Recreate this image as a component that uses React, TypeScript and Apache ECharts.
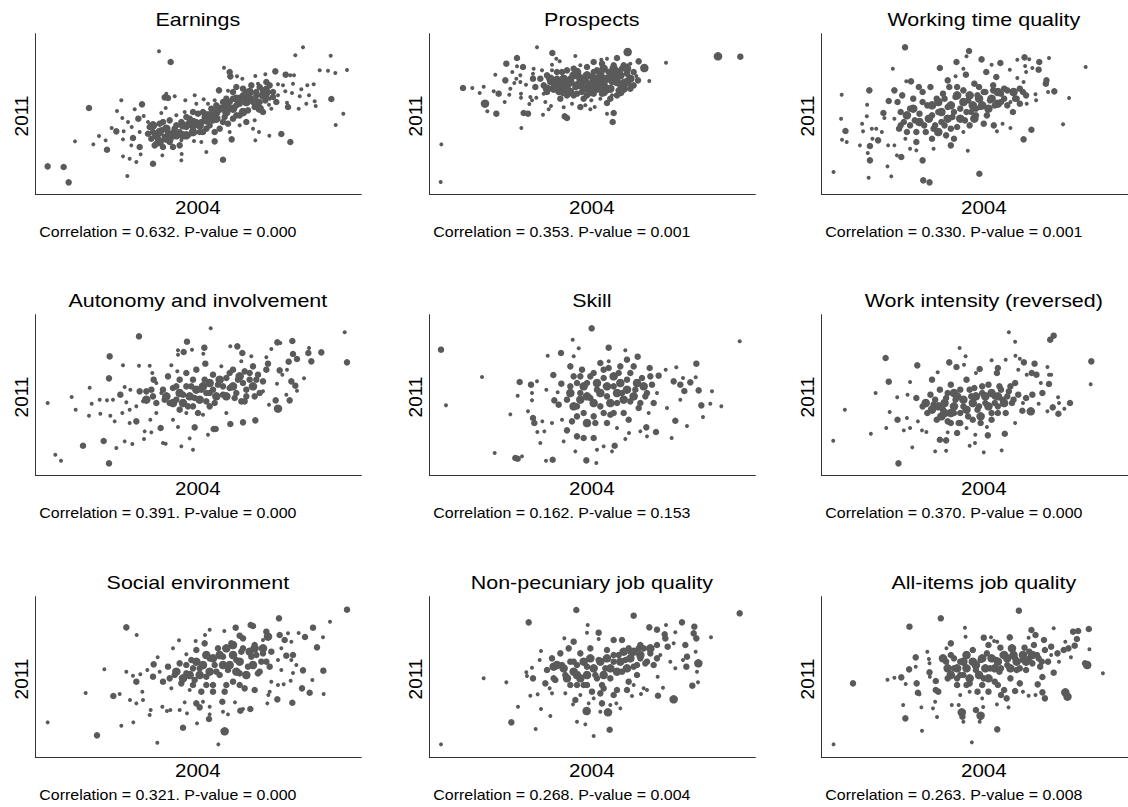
import { useEffect, useRef } from "react";
import * as echarts from "echarts";

type Pt = [number, number, number];

// [score 2004, score 2011, weight class]
const earnings: Pt[] = [
  [37.8,43.2,1],[41.3,40.0,2],[81.0,44.4,1],[78.7,42.0,1],[89.3,41.9,1],[86.0,37.5,1],[88.5,37.4,1],[90.7,36.7,1],[94.2,37.6,1],
  [89.5,28.9,2],[93.1,24.5,1],[90.8,21.1,1],[57.3,38.3,1],[59.0,37.0,2],[59.2,35.7,2],[61.2,35.7,1],[62.8,35.0,1],[66.7,35.8,1],
  [69.7,36.3,1],[72.7,37.2,2],[75.8,36.2,2],[77.2,36.0,1],[78.3,36.0,1],[73.5,33.3,1],[75.0,33.0,1],[78.0,33.5,1],[82.3,33.0,1],
  [84.2,33.3,1],[80.5,31.8,1],[75.7,31.2,1],[77.7,30.7,1],[73.5,30.0,1],[80.0,29.7,1],[82.8,30.0,1],[84.5,28.2,1],[82.0,27.5,1],
  [84.8,26.8,1],[76.2,27.8,1],[76.5,26.5,2],[79.7,26.0,1],[71.5,26.0,1],[70.8,27.2,1],[74.5,18.4,2],[77.2,16.0,2],[70.9,17.9,1],
  [67.8,19.0,1],[66.7,16.5,1],[59.6,16.8,2],[57.0,10.7,2],[52.0,13.0,1],[54.5,16.2,2],[48.3,16.3,1],[44.6,12.4,1],[44.5,10.5,1],
  [38.8,12.0,1],[36.0,9.5,2],[28.3,5.8,1],[32.3,12.3,1],[31.0,10.0,1],[29.0,11.0,1],[27.0,11.7,1],[22.2,13.7,2],[18.1,15.3,1],
  [12.6,16.2,1],[4.4,8.7,2],[9.2,8.5,2],[10.7,3.9,2],[16.8,26.2,2],[26.5,28.5,1],[25.2,25.3,1],[30.5,25.8,1],[32.7,27.3,2],
  [33.2,23.8,1],[31.6,23.0,2],[26.8,23.2,1],[28.5,22.0,1],[29.6,20.5,1],[25.0,19.2,2],[23.6,20.2,1],[27.2,19.2,1],[21.8,16.5,1],
  [19.8,17.8,1],[27.0,16.8,1],[30.0,17.2,2],[32.0,19.0,1],[29.5,15.0,1],[32.0,14.5,2],[34.5,22.0,1],[38.5,24.7,1],[39.8,26.2,1],
  [39.5,29.4,2],[40.5,29.2,2],[42.5,29.7,1],[40.0,30.5,1],[45.7,28.5,1],[48.5,30.0,1],[51.2,28.8,1],[55.8,31.5,2],[58.5,31.4,1],
  [61.0,32.5,2],[63.0,32.0,2],[65.5,33.0,2],[68.0,32.5,2],[70.0,32.0,2],[69.7,28.5,2],[72.0,29.5,2],[69.0,25.0,2],[66.5,26.5,2],
  [66.5,22.5,1],[64.0,22.0,2],[66.0,20.0,1],[35.0,20.5,2],[36.0,19.0,2],[37.5,17.0,2],[35.5,17.0,2],[38.5,19.5,2],[39.5,17.5,2],
  [37.0,15.5,2],[40.5,18.5,2],[42.0,14.5,2],[41.0,16.0,2],[42.5,20.0,2],[44.0,19.0,2],[44.5,22.0,2],[46.0,20.5,2],[47.0,23.0,2],
  [48.0,20.5,2],[49.5,24.5,2],[50.5,22.0,2],[51.5,23.5,2],[52.0,20.0,2],[53.5,26.0,2],[54.0,22.5,2],[55.0,25.0,2],[56.0,20.0,2],
  [57.0,28.0,2],[57.5,23.5,2],[59.0,26.0,2],[60.0,29.0,2],[61.0,24.0,2],[62.0,27.5,2],[63.0,30.0,2],[64.5,25.5,2],[65.5,29.0,2],
  [67.0,30.0,2],[68.0,28.0,2],[69.0,31.5,2],[64.0,31.0,2],[60.0,23.0,2],[58.5,21.5,2],[54.5,19.0,2],[50.0,19.0,2],[47.0,18.0,1],
  [44.5,16.5,1],[45.5,25.0,1],[43.0,24.0,1],[41.0,22.5,2],[38.0,21.5,2],[49.0,27.5,1],[52.5,27.5,1],[54.5,28.5,1],[34.5,18.5,2],
  [36.5,15.0,2],[39.0,14.5,2],[62.0,21.0,1],[59.0,19.0,1],[50.5,16.0,1],[71.0,29.0,1],[70.0,34.0,2],[67.5,33.5,1],
  [36,21,3],[37,18,3],[38,16,3],[40,20,3],[41,17,3],[43,18,3],[44,15,2],[45,21,3],[46,18,3],[47,21.5,3],[48,19,3],[49,22,2],
  [50,21,3],[51,25,2],[52,22.5,3],[53,24,3],[55,23,3],[56,26,3],[57,22,2],[58,25,3],[59,28,2],[60,26,3],[61,27,2],[62,29,3],
  [63,25,3],[64,28,3],[65,31,3],[66,28,2],[67,31,2],[68,26,3],[69,30,3],[70,30,2],[71,33,2],[72,31,2],[73,28,2],[46,23.5,2],
  [43,21,2],[39,22,2],[55,27,2],[58,29,2],[60,31,2],[62,24,2],[48,25,2],[51,19,2],[53,21,2],
  [38,19,3],[42,18.5,3],[45,18,3],[48,22,3],[52,24,3],[55,25,3],[58,27,3],[61,29,3],[64,30,3],[67,28,3],[70,31,3],[40,17,3]
];

const prospects: Pt[] = [
  [4.3,15.3,1],[4.1,4.0,1],[10.8,32.2,2],[13.6,32.2,1],[17.0,32.6,1],[15.8,30.7,1],[17.4,27.5,3],[18.1,25.2,1],[20.8,24.5,2],
  [20.0,31.2,1],[21.5,30.5,2],[23.3,28.0,1],[24.7,30.2,1],[25.0,32.0,1],[23.5,34.5,2],[20.5,36.2,1],[23.8,39.5,2],[27.0,41.2,2],
  [27.0,38.7,1],[28.8,38.5,2],[25.6,37.0,1],[26.8,35.0,1],[28.0,36.0,1],[26.2,33.7,1],[28.0,34.0,1],[29.7,33.2,1],[28.2,30.5,1],
  [28.2,29.3,1],[31.0,29.5,1],[31.5,28.5,1],[32.8,29.3,1],[30.7,27.4,1],[29.0,24.7,2],[30.3,24.5,2],[28.3,20.2,1],[34.8,24.2,1],
  [36.5,25.8,1],[37.2,26.8,1],[35.5,28.0,1],[33.0,44.4,1],[37.6,42.7,2],[38.8,41.0,1],[39.8,40.2,1],[44.5,41.8,1],[37.5,39.2,1],
  [32.0,38.0,1],[31.8,36.5,1],[34.5,37.5,1],[41.0,26.4,1],[41.3,23.7,2],[42.0,23.2,2],[43.5,27.5,1],[46.0,26.5,2],[47.5,27.0,1],
  [49.0,25.8,1],[50.3,26.5,1],[49.3,28.5,1],[52.0,29.0,1],[54.0,27.7,2],[54.8,29.0,1],[54.0,24.5,1],[56.0,24.7,2],[55.7,22.0,2],
  [52.3,40.7,1],[54.0,41.0,1],[57.0,41.2,2],[60.2,43.0,3],[60.3,39.0,1],[61.0,39.5,1],[63.5,40.2,2],[65.2,38.2,3],[62.8,35.8,1],
  [63.3,34.5,2],[66.7,34.3,1],[71.7,39.8,1],[87.3,41.7,3],[94.0,41.6,2],[34.0,35.0,2],[35.0,33.0,2],[36.0,36.0,2],[37.0,34.0,2],
  [38.0,32.0,3],[39.0,35.0,2],[39.5,31.0,2],[40.5,37.0,2],[41.0,33.0,2],[42.0,30.0,2],[43.0,35.0,2],[44.0,38.0,2],[44.5,32.5,2],
  [45.5,36.0,2],[46.5,31.0,2],[47.0,34.0,2],[48.0,38.5,2],[48.5,32.5,2],[49.5,35.5,2],[50.0,30.5,2],[51.0,37.5,2],[51.5,33.5,2],
  [52.5,39.5,2],[53.0,35.0,2],[54.0,31.5,2],[54.5,37.0,2],[55.5,34.0,2],[56.0,39.0,2],[57.0,36.0,2],[57.5,31.5,2],[58.5,38.0,2],
  [59.0,34.0,2],[60.0,36.5,2],[61.0,33.0,1],[50.0,40.0,2],[46.0,39.0,1],[42.0,37.5,2],[37.5,37.5,1],[39.5,33.5,3],[45.0,30.5,2],
  [52.5,30.5,2],[55.5,30.0,1],[35.0,30.5,1],[32.5,32.5,2],[31.8,35.0,2],
  [36,32,3],[38,34,3],[40,32,3],[41,35,3],[42,33,3],[43,31,3],[44,36,3],[45,33,3],[46,35,3],[47,32,3],[48,36,3],[49,33,3],
  [50,35,3],[51,32,3],[52,36,3],[53,33,3],[54,35,3],[55,32,3],[56,36,3],[57,34,3],[58,36,3],[59,32,3],[60,38,3],[61,35,3],
  [62,37,2],[56,38,3],[53,38,3],[50,37,2],[47,29,2],[44,30,2],[48,30,2],[51,34,2],[58,33,2],[55,29,2],[40,29,2],[36,31,2],
  [57,30,2],[62,33,2],[59,39,2],
  [37,35,3],[39,37,2],[41,31,3],[43,34,3],[45,37,3],[47,35,3],[49,31,3],[50,33,3],[52,34,3],[53,31,3],[55,35,3],[57,37,3],
  [58,31,3],[60,34,3],[61,32,2],[55,37,2],[48,34,2],[46,33,2]
];

const workingTime: Pt[] = [
  [4.6,7.0,1],[7.2,30.2,1],[7.0,23.0,1],[8.4,19.3,2],[7.3,16.7,1],[8.8,16.0,1],[15.8,5.3,1],[16.2,10.5,2],[16.2,14.8,2],
  [15.5,12.7,1],[13.0,15.0,1],[14.0,19.2,1],[13.7,21.5,1],[15.2,23.7,1],[15.3,27.2,1],[16.0,31.5,2],[17.0,17.0,1],[16.8,20.0,1],
  [18.8,16.5,2],[18.2,20.0,1],[20.0,19.0,1],[20.5,24.7,2],[20.8,23.2,1],[21.8,8.7,1],[23.0,5.7,1],[22.0,15.0,1],[23.5,38.0,1],
  [27.4,44.4,2],[24.0,31.5,2],[22.2,28.3,2],[24.0,23.0,1],[24.8,12.0,1],[26.2,11.5,2],[27.8,34.2,1],[29.3,34.2,2],[33.0,10.5,2],
  [33.2,4.5,2],[35.2,3.9,2],[36.5,14.0,1],[38.5,38.2,2],[43.8,40.0,2],[47.0,41.7,1],[47.8,43.3,2],[46.0,38.0,1],[46.8,36.2,2],
  [43.5,35.7,1],[51.8,40.8,2],[55.0,39.2,1],[57.8,39.7,2],[53.3,37.0,2],[56.5,35.5,2],[47.4,13.4,1],[42.0,15.0,2],[51.1,6.5,2],
  [60.8,37.7,1],[63.2,40.7,1],[65.5,41.4,2],[67.0,40.8,1],[65.7,38.8,1],[68.0,38.2,1],[70.2,40.0,2],[70.0,37.7,2],[73.3,41.2,1],
  [66.0,37.0,1],[63.2,35.2,1],[65.2,34.0,1],[72.5,34.5,2],[72.3,33.5,2],[75.0,31.2,2],[73.0,31.0,1],[69.0,30.3,1],[69.2,28.5,1],
  [66.2,27.5,1],[85.0,38.5,1],[79.7,29.2,1],[77.8,21.3,1],[67.7,19.7,2],[65.2,16.8,2],[61.8,25.0,2],[58.5,21.5,1],[55.7,21.0,2],
  [56.7,19.2,1],[61.0,20.2,1],[25.0,28.0,2],[26.0,25.0,2],[26.5,30.0,2],[27.0,22.0,2],[28.0,19.0,2],[29.0,26.0,2],[30.0,29.0,2],
  [30.5,22.5,2],[31.0,16.0,2],[32.0,24.5,2],[33.0,31.0,2],[33.5,21.0,2],[34.5,27.0,2],[35.5,32.5,2],[36.0,24.0,2],[36.5,20.0,2],
  [37.5,29.0,2],[38.0,25.0,2],[39.0,22.0,2],[39.5,30.5,2],[40.5,18.0,2],[41.0,26.5,2],[41.5,32.5,2],[42.5,23.5,2],[43.5,29.5,2],
  [44.0,20.5,2],[45.0,26.0,2],[46.0,31.5,2],[46.5,22.5,2],[47.5,28.5,2],[48.5,25.0,2],[49.5,33.5,2],[49.5,23.0,3],[50.5,30.0,2],
  [51.5,26.5,2],[52.5,31.0,2],[53.5,24.0,2],[54.5,28.5,2],[55.5,31.5,2],[57.0,27.5,3],[58.0,30.5,2],[59.0,29.0,2],[60.0,31.5,2],
  [61.0,28.0,1],[62.5,29.0,2],[64.0,27.5,2],[65.0,31.0,2],[55.5,33.0,2],[51.0,32.5,2],[44.0,32.5,2],[41.0,34.5,2],[31.8,32.5,2],
  [40.0,21.0,2],[43.0,17.0,2],[46.0,19.0,1],[50.0,26.0,2],[52.5,21.5,2],[27.5,17.0,1],[29.0,14.0,1],[31.0,13.5,1],[25.5,20.0,2],
  [24.0,15.0,1],
  [28,24,3],[30,26,3],[32,22,3],[33,28,2],[35,23,3],[36,27,3],[37,21,2],[38,28,3],[39,25,3],[40,29,2],[41,23,3],[42,27,3],
  [43,25,2],[44,30,3],[45,23,3],[46,28,3],[47,25,2],[48,30,3],[49,27,3],[50,24,2],[51,29,3],[52,27,3],[53,31,2],[54,26,3],
  [55,29,3],[56,27,2],[57,31,3],[58,28,2],[59,32,2],[60,27,2],[62,31,3],[63,29,2],[64,32,2],[66,30,2],[34,19,2],[36,17,2],
  [38,19,3],[42,20,2],[48,21,2],[29,21,2],[31,19,2],[26,21,2]
];

const autonomy: Pt[] = [
  [4.4,22.0,1],[6.7,6.5,1],[8.4,4.7,1],[11.6,23.8,1],[12.8,20.0,1],[15.0,9.2,2],[17.0,26.6,1],[16.8,18.2,1],[17.6,21.8,1],
  [20.0,23.0,1],[20.2,18.8,1],[21.2,10.6,2],[22.2,22.8,1],[22.8,29.4,2],[23.0,36.0,2],[22.8,3.9,2],[23.2,18.2,1],[24.0,23.0,1],
  [24.5,16.5,1],[25.0,8.5,1],[26.2,24.5,2],[26.8,19.0,1],[27.0,33.3,1],[27.5,26.8,1],[27.5,10.5,1],[28.0,22.2,1],[29.0,20.0,1],
  [29.0,16.0,1],[29.2,26.0,1],[29.8,9.7,1],[31.0,16.5,2],[31.8,42.0,2],[31.8,33.2,1],[31.0,21.0,1],[33.0,22.5,1],[33.5,13.5,1],
  [33.3,11.2,1],[35.0,33.2,1],[35.2,17.0,1],[35.5,13.2,1],[35.8,31.0,1],[36.2,29.0,2],[37.0,19.0,1],[38.3,14.5,2],[39.0,10.0,1],
  [39.8,9.8,1],[41.5,33.3,1],[42.0,17.0,1],[43.5,37.8,1],[43.5,36.5,1],[43.5,14.8,1],[43.3,31.5,1],[45.2,37.3,2],[46.2,40.4,2],
  [47.7,38.0,1],[44.5,9.0,1],[47.0,11.4,1],[48.0,8.0,1],[48.5,14.7,2],[51.1,36.8,1],[51.4,38.6,2],[51.7,33.8,2],[53.3,44.4,1],
  [52.5,12.5,1],[54.2,14.2,2],[54.8,14.2,2],[59.2,15.7,2],[59.2,39.0,1],[61.3,39.0,2],[62.8,37.0,2],[65.5,36.0,1],[62.5,34.5,1],
  [63.0,16.2,2],[66.7,16.8,2],[70.0,35.7,1],[70.5,33.8,2],[71.5,38.2,1],[73.3,40.2,2],[74.2,40.0,1],[77.8,40.6,2],[78.0,36.7,2],
  [79.2,35.2,2],[76.7,34.4,2],[74.0,31.8,2],[76.2,32.0,1],[74.8,30.5,1],[73.2,27.8,1],[77.5,28.5,2],[78.7,27.2,2],[79.2,25.7,1],
  [81.3,29.4,1],[82.8,38.5,1],[82.6,37.0,2],[83.5,34.5,2],[86.5,37.2,2],[93.5,43.2,1],[94.2,34.2,2],[76.0,24.5,1],[77.0,22.8,2],
  [73.5,20.3,3],[72.8,22.8,2],[70.8,21.5,1],[69.0,25.5,1],[32.0,25.5,2],[34.0,25.5,2],[35.5,26.0,2],[37.0,28.0,1],[38.5,25.0,1],
  [39.5,23.0,2],[40.5,30.0,2],[41.0,22.0,2],[42.0,26.5,2],[43.0,23.0,2],[44.0,29.0,2],[45.0,24.5,2],[46.0,31.0,2],[46.5,21.0,2],
  [47.5,27.0,2],[48.5,23.5,2],[49.0,32.0,2],[49.5,19.0,2],[50.5,26.0,2],[51.5,29.0,2],[52.0,22.5,2],[53.0,25.0,2],[54.0,30.5,2],
  [54.5,22.0,2],[55.5,27.5,2],[56.5,33.0,1],[57.0,24.5,2],[58.0,29.5,2],[59.0,26.5,2],[60.0,32.0,2],[60.5,23.5,2],[61.5,29.0,2],
  [62.5,22.5,2],[63.5,31.5,2],[64.0,26.0,2],[65.0,29.0,2],[66.0,33.0,2],[66.5,24.0,2],[67.5,30.5,2],[69.0,28.5,2],[70.0,32.0,2],
  [46.0,19.0,1],[51.0,18.5,1],[58.0,19.0,1],[63.5,22.5,2],
  [34,23,3],[36,24,2],[37,22,2],[39,26,2],[40,24,3],[42,22,3],[43,27,2],[44,25,3],[45,22,3],[46,27,2],[47,24,3],[48,29,2],
  [49,26,3],[50,23,3],[51,27,3],[52,25,2],[53,28,3],[54,26,2],[55,24,3],[56,29,3],[57,27,2],[58,24,3],[59,31,2],[60,27,3],
  [61,25,2],[62,30,3],[63,28,2],[64,24,2],[65,31,2],[66,27,3],[67,29,2],[68,25,2],[48,21,2],[44,20,2],[53,21,2]
];

const skill: Pt[] = [
  [4.2,38.0,2],[5.7,21.3,1],[16.5,29.8,1],[20.3,7.0,1],[25.0,18.6,1],[26.5,5.5,2],[27.2,5.3,2],[28.5,6.0,1],[27.2,24.2,1],
  [27.8,28.3,2],[30.3,19.5,1],[31.2,27.5,2],[31.5,25.0,1],[31.5,22.8,1],[31.8,17.5,2],[32.2,16.0,2],[33.0,28.5,1],[33.1,13.3,1],
  [34.0,10.0,1],[34.6,16.5,1],[35.2,13.5,1],[35.7,4.7,1],[36.2,36.2,1],[35.8,26.0,1],[37.5,16.0,1],[37.7,5.0,2],[37.9,30.4,2],
  [38.2,22.8,2],[39.2,25.2,1],[40.2,37.0,2],[40.3,27.8,2],[40.5,17.0,1],[41.0,10.5,1],[42.0,13.8,2],[43.5,16.5,2],[43.7,41.0,1],
  [44.0,36.0,1],[44.5,7.5,1],[45.5,38.4,1],[47.8,4.8,2],[49.4,44.4,2],[50.0,11.5,2],[51.0,8.0,1],[50.8,4.0,1],[53.0,9.0,1],
  [54.5,38.6,2],[54.5,34.5,1],[55.5,7.5,1],[56.3,9.2,2],[57.0,14.5,1],[59.5,37.8,1],[60.0,35.0,2],[63.2,35.9,2],[60.6,13.0,1],
  [59.5,11.2,1],[64.0,13.5,1],[65.8,14.7,2],[66.0,12.0,1],[68.7,13.3,2],[73.4,11.5,1],[74.5,16.7,2],[78.0,15.1,1],[82.8,17.8,1],
  [82.3,21.3,2],[85.0,21.8,1],[88.3,21.0,1],[85.5,25.5,1],[81.5,25.8,2],[80.8,33.8,2],[80.6,29.7,1],[79.0,28.2,2],[76.8,29.5,1],
  [77.2,25.6,2],[76.0,27.5,2],[74.8,32.7,1],[74.0,28.5,2],[71.6,32.0,1],[69.5,30.2,2],[66.8,32.5,2],[76.0,23.0,1],[72.0,20.5,1],
  [93.8,40.5,1],[42.0,23.0,2],[43.0,27.0,2],[44.0,30.0,2],[45.0,21.0,2],[46.0,25.0,2],[46.5,32.0,2],[47.0,19.0,2],[48.0,28.0,2],
  [49.0,23.5,2],[50.0,31.0,2],[50.5,16.0,2],[51.0,26.0,2],[52.0,21.0,2],[53.0,29.5,2],[54.0,24.0,2],[54.5,32.5,2],[55.0,18.5,2],
  [56.0,27.0,2],[57.0,22.0,2],[57.5,31.0,2],[58.5,25.0,2],[59.0,19.0,2],[60.0,29.0,2],[61.0,22.5,2],[62.0,33.0,2],[62.5,26.0,2],
  [63.5,20.5,2],[64.5,29.5,2],[65.5,24.0,2],[66.5,19.0,1],[67.5,27.5,2],[69.0,25.0,1],[48.0,16.0,3],[54.0,16.0,2],[45.0,12.0,2],
  [47.0,11.5,2],[60.5,17.0,2],[39.5,21.5,2],[43.0,33.0,2],[46.0,30.0,2],
  [43,25,3],[44,21,3],[45,28,2],[46,23,3],[47,27,3],[48,24,3],[49,30,2],[50,22,3],[51,28,3],[52,25,3],[53,19,2],[53,32,2],
  [54,27,3],[55,22,3],[56,30,3],[57,25,3],[58,28,3],[59,23,3],[60,26,3],[61,31,2],[62,24,3],[63,28,3],[64,22,2],[65,27,3],
  [66,25,2],[67,30,2],[68,22,2],[50,18,2],[56,19,2],[45,18,2],[52,34,2],[58,33,2]
];

const workIntensity: Pt[] = [
  [4.5,10.7,1],[8.2,20.0,1],[16.5,12.8,1],[18.0,25.0,1],[21.2,35.5,2],[22.2,28.4,2],[21.4,14.5,1],[22.5,19.3,1],[25.0,17.0,2],
  [25.3,3.9,2],[24.9,23.7,1],[27.0,13.8,1],[28.0,17.5,1],[28.2,24.5,1],[29.0,28.3,1],[29.0,14.5,1],[29.7,8.7,1],[31.3,33.3,2],
  [31.0,23.5,2],[31.5,16.5,1],[32.8,13.8,1],[34.2,13.3,1],[37.0,7.5,1],[37.8,31.2,1],[36.0,29.0,2],[38.5,11.0,2],[40.5,10.8,2],
  [40.5,7.7,1],[41.0,13.2,1],[41.5,34.2,2],[43.8,32.8,2],[44.8,38.5,1],[46.2,33.5,1],[46.7,36.0,1],[48.0,9.2,1],[49.7,10.0,1],
  [49.8,12.5,1],[52.5,7.2,1],[53.8,12.3,2],[53.5,14.8,1],[51.2,32.2,2],[50.0,31.0,1],[55.0,34.8,1],[57.0,32.5,2],[56.7,31.0,2],
  [58.2,7.8,1],[59.2,12.8,2],[60.5,43.2,1],[62.5,40.4,1],[62.6,36.2,1],[59.5,35.0,1],[65.3,34.2,2],[68.7,33.8,2],[64.0,35.3,1],
  [63.5,32.0,1],[66.2,30.5,1],[67.8,31.0,2],[69.3,30.5,2],[72.8,32.8,1],[73.3,30.5,1],[74.0,30.5,1],[73.3,27.7,2],[70.7,28.0,1],
  [71.2,25.0,2],[73.7,41.0,2],[74.8,42.2,2],[62.5,16.0,1],[64.8,19.7,2],[67.5,19.5,3],[70.0,21.8,1],[72.8,19.5,1],[74.5,20.7,2],
  [76.3,18.8,2],[76.2,23.7,1],[76.5,22.0,1],[78.2,20.3,1],[80.0,22.0,2],[86.8,34.5,2],[86.6,27.6,1],[68.0,24.5,2],[66.0,23.5,2],
  [65.0,22.0,1],[33.0,21.0,2],[34.5,19.0,2],[35.5,24.5,2],[36.5,21.5,2],[37.5,17.0,2],[38.5,26.0,2],[39.5,20.0,2],[40.5,23.5,2],
  [41.0,16.5,2],[42.0,27.5,2],[43.0,19.0,2],[43.5,23.0,2],[44.5,16.0,2],[45.0,26.0,2],[46.0,21.0,2],[47.0,29.0,2],[47.5,18.0,2],
  [48.5,24.0,2],[49.5,26.5,2],[50.5,20.0,2],[51.5,16.0,2],[52.0,25.0,2],[53.0,22.0,2],[54.0,27.5,2],[55.0,19.0,2],[56.0,24.0,2],
  [57.0,21.0,2],[57.5,27.0,2],[58.5,23.0,2],[59.5,19.0,2],[60.5,25.5,2],[61.5,22.0,2],[62.5,28.0,2],[63.5,24.5,2],[44.0,13.0,2],
  [47.0,14.5,1],[51.5,18.0,3],[40.0,19.0,3],[43.0,25.0,3],
  [34,22,3],[36,20,3],[37,23,2],[38,21,3],[39,18,3],[40,22,3],[41,25,2],[42,19,3],[43,21,3],[44,24,3],[45,19,2],[46,23,3],
  [47,20,3],[48,26,2],[49,22,3],[50,24,3],[51,21,2],[52,27,2],[53,24,3],[54,21,3],[55,25,3],[56,22,2],[57,24,3],[58,26,2],
  [59,22,3],[60,24,2],[61,27,2],[62,23,2],[45,16,2],[49,17,2],[42,16,2],[55,17,2],[57,19,2]
];

const socialEnv: Pt[] = [
  [4.4,10.8,1],[15.8,19.6,1],[19.2,6.9,2],[21.4,26.7,1],[24.1,18.7,2],[26.0,19.3,1],[26.5,9.8,1],[28.0,39.3,2],[28.0,26.0,1],
  [29.1,17.5,1],[30.0,24.8,1],[30.1,10.8,1],[31.0,23.0,2],[31.1,37.0,1],[31.0,16.5,1],[32.2,25.2,1],[32.8,20.0,1],[33.0,17.5,1],
  [34.3,26.5,1],[35.0,13.0,1],[35.3,14.5,1],[37.3,4.7,1],[37.4,30.3,1],[36.2,28.2,2],[38.8,15.5,1],[40.2,14.2,1],[41.2,14.5,1],
  [42.0,33.0,1],[43.8,35.4,1],[44.0,14.5,1],[45.0,9.2,2],[45.5,16.8,1],[46.0,31.2,1],[46.2,13.5,1],[49.2,10.5,1],[48.8,35.2,1],
  [49.0,16.5,2],[50.0,15.3,2],[52.8,11.8,2],[53.0,15.5,1],[53.0,13.2,1],[53.0,38.6,1],[51.6,37.0,1],[55.6,4.2,1],[57.5,8.1,3],
  [56.8,17.0,2],[57.0,14.0,1],[58.5,13.2,1],[57.4,38.2,1],[60.8,39.2,2],[62.2,14.3,2],[63.0,14.8,1],[65.2,14.8,2],[60.6,16.8,1],
  [65.3,40.0,2],[66.0,39.7,2],[62.0,36.8,2],[70.3,16.5,1],[70.6,19.0,1],[73.3,17.7,2],[73.8,42.0,2],[74.0,37.0,2],[77.8,16.7,2],
  [77.3,23.3,1],[78.0,25.6,1],[79.0,28.0,1],[80.7,21.0,2],[81.0,26.4,2],[83.0,19.7,2],[83.8,23.5,1],[87.1,26.3,2],[87.2,19.3,1],
  [85.2,33.3,2],[87.0,36.3,1],[81.6,36.4,2],[84.0,39.2,2],[89.1,41.0,1],[94.2,44.6,2],[79.7,37.6,1],[76.5,37.5,1],[75.5,35.5,2],
  [77.5,35.0,1],[74.5,33.0,1],[76.0,30.8,2],[78.0,31.0,2],[77.5,29.5,1],[73.5,29.5,1],[74.5,26.5,1],[75.2,22.2,1],[73.5,22.0,1],
  [71.5,23.0,1],[71.0,20.0,1],[70.0,38.0,2],[70.5,36.5,3],[69.0,35.5,1],[66.5,34.0,2],[36.0,24.5,2],[38.0,26.0,1],[39.0,23.0,2],
  [40.5,27.5,2],[41.5,21.0,1],[42.5,25.0,2],[44.0,28.5,2],[44.5,22.5,2],[46.0,25.5,2],[47.0,20.5,1],[47.5,29.5,2],[48.5,23.5,2],
  [49.0,32.5,2],[50.0,27.0,2],[50.5,20.0,2],[51.5,34.5,2],[52.0,24.5,2],[53.0,30.0,2],[54.0,22.0,2],[54.5,28.0,2],[55.5,33.0,2],
  [56.0,25.0,2],[57.0,30.5,2],[57.5,20.0,2],[58.5,26.5,2],[59.5,34.5,2],[60.0,34.0,3],[60.0,23.0,2],[61.0,29.5,2],[62.0,25.5,2],
  [62.5,32.0,2],[63.5,21.0,2],[64.5,27.5,2],[65.5,30.5,2],[66.5,33.0,3],[66.5,20.5,2],[67.5,25.5,2],[68.5,29.0,2],[69.0,31.5,2],
  [71.0,27.5,2],[71.5,32.0,2],[63.0,36.0,2],[54.0,20.0,2],[51.0,17.0,1],
  [41,24,2],[43,26,3],[45,24,3],[46,28,2],[47,25,3],[48,27,2],[49,29,3],[50,25,3],[51,28,3],[52,31,3],[53,26,3],[54,30,3],
  [55,26,2],[56,31,3],[57,28,3],[58,33,3],[59,28,3],[60,31,3],[61,26,3],[62,29,3],[63,33,2],[64,25,3],[65,32,3],[66,28,3],
  [67,31,2],[68,26,2],[69,33,3],[70,29,2],[58,22,2],[52,22,2],[48,22,2],[62,22,2]
];

const nonPecuniary: Pt[] = [
  [4.2,4.2,1],[17.0,24.0,1],[23.8,22.8,1],[25.3,10.8,2],[27.3,15.5,1],[30.5,40.8,2],[29.8,25.8,1],[30.0,24.7,1],[31.5,27.2,1],
  [31.8,24.0,2],[31.0,18.8,1],[32.6,8.8,1],[33.2,19.2,1],[33.8,29.5,1],[34.2,32.2,1],[34.2,14.8,1],[37.0,12.7,1],[44.8,44.5,2],
  [41.2,36.0,1],[44.0,35.0,2],[48.2,40.0,1],[48.0,37.7,1],[51.5,37.7,2],[51.5,35.8,1],[62.0,42.8,2],[66.7,39.3,2],[69.0,38.6,2],
  [71.7,40.0,1],[74.5,37.8,1],[76.5,40.8,2],[80.2,39.5,2],[80.0,37.5,2],[80.8,36.0,2],[85.2,36.3,1],[93.8,43.5,2],[71.3,37.2,2],
  [71.5,36.0,2],[74.0,34.5,1],[72.2,33.5,2],[77.5,34.0,2],[78.0,30.5,2],[80.6,32.0,1],[81.4,28.5,3],[77.8,27.5,2],[76.8,29.5,1],
  [74.5,27.0,1],[81.0,26.0,1],[81.3,22.8,1],[79.6,21.8,2],[74.0,17.7,3],[70.8,21.2,1],[69.2,24.5,1],[69.3,18.8,2],[73.0,29.0,1],
  [70.0,31.0,1],[45.0,11.0,1],[47.5,10.2,1],[50.0,6.7,1],[54.8,8.6,2],[47.9,14.2,3],[52.0,14.0,1],[54.3,13.8,3],[55.0,16.0,1],
  [56.8,16.5,1],[58.0,15.0,1],[52.5,16.5,2],[50.0,18.0,1],[48.5,16.5,1],[44.5,17.5,2],[43.8,16.2,1],[41.5,19.5,1],[37.5,19.5,1],
  [36.8,21.0,1],[35.5,22.5,2],[61.5,18.7,1],[64.2,19.3,1],[66.0,20.5,1],[69.0,34.0,2],[63.5,33.0,2],[64.0,34.0,2],[60.5,33.0,2],
  [58.5,35.5,2],[56.0,35.5,2],[62.0,22.0,1],[65.0,21.0,1],[36.0,26.5,2],[37.5,30.0,2],[38.5,23.5,2],[40.0,31.5,2],[40.5,28.0,2],
  [41.5,25.0,2],[42.5,33.0,2],[43.0,22.0,2],[44.0,29.0,2],[45.0,25.0,3],[46.0,31.5,2],[47.0,22.0,2],[48.0,27.5,2],[49.0,33.0,2],
  [49.5,20.0,2],[50.5,25.0,2],[51.5,29.5,2],[52.5,22.0,2],[53.5,27.0,2],[54.0,32.5,2],[55.0,24.0,2],[56.0,29.0,2],[57.0,20.5,2],
  [57.5,31.0,2],[58.5,26.0,2],[59.5,29.5,2],[60.5,23.0,2],[61.0,32.0,2],[62.0,27.5,2],[63.0,25.0,2],[64.0,30.0,2],[65.5,28.5,2],
  [67.0,31.5,2],[68.0,28.0,2],[60.0,20.5,2],[56.0,19.0,2],[52.0,19.5,2],[46.0,19.0,1],[38.0,27.5,3],
  [38,24,2],[39,28,3],[41,27,3],[42,24,3],[43,29,2],[44,26,3],[45,28,2],[46,24,3],[47,29,3],[48,25,3],[49,30,3],[50,27,3],
  [51,24,2],[52,29,3],[53,25,3],[54,30,3],[55,27,3],[56,31,2],[57,26,3],[58,29,3],[59,32,3],[60,27,3],[61,30,3],[62,32,3],
  [63,28,2],[64,31,3],[65,33,2],[66,29,2],[67,33,3],[69,30,2],[48,22,2],[53,21,2],[45,22,2]
];

const allItems: Pt[] = [
  [4.6,4.2,1],[10.8,22.5,2],[21.8,23.6,1],[24.0,24.2,1],[26.2,24.3,2],[26.8,16.0,1],[27.5,12.0,2],[27.6,22.3,1],[28.8,39.5,2],
  [28.7,26.7,2],[30.8,30.3,2],[30.8,27.5,1],[31.1,22.5,2],[31.5,19.7,2],[32.0,19.2,1],[32.6,15.3,1],[32.8,8.3,1],[34.5,32.0,1],
  [35.0,29.8,1],[35.2,28.5,1],[35.2,25.8,2],[35.3,24.5,1],[36.3,15.0,1],[37.0,17.0,1],[37.6,12.4,1],[38.8,42.0,2],[37.2,23.2,2],
  [38.0,20.0,2],[37.2,20.5,2],[42.0,34.5,2],[40.6,33.0,1],[42.3,16.0,1],[44.5,16.0,1],[45.5,13.8,3],[45.7,12.5,2],[46.0,11.0,1],
  [46.5,39.2,1],[46.7,36.5,1],[48.7,4.8,1],[50.0,14.5,2],[51.2,11.0,1],[51.5,12.8,3],[52.3,15.4,1],[52.5,36.2,2],[54.8,36.3,1],
  [56.8,35.0,1],[55.8,35.2,1],[54.0,34.0,2],[57.8,33.2,2],[60.8,36.3,2],[63.7,44.3,2],[56.8,8.7,2],[56.7,16.2,1],[60.4,15.3,1],
  [59.8,18.0,2],[62.5,20.2,2],[65.0,20.0,1],[66.8,18.8,1],[69.0,19.0,1],[71.2,19.8,2],[72.0,18.0,2],[69.7,22.2,2],[71.2,24.4,2],
  [74.8,25.7,2],[78.5,19.8,3],[79.2,18.5,3],[90.5,25.5,1],[85.5,28.0,3],[84.8,28.5,2],[86.2,32.7,1],[86.0,38.8,2],[82.6,38.2,2],
  [81.0,38.0,2],[82.2,35.8,2],[81.5,33.8,2],[74.8,39.0,1],[67.7,38.5,2],[66.8,36.2,1],[69.0,37.0,2],[71.7,35.5,2],[78.5,35.0,1],
  [79.5,33.0,2],[78.0,32.5,2],[80.3,30.3,1],[76.0,31.5,2],[76.5,29.0,1],[74.0,31.0,1],[74.0,33.5,2],[65.5,33.2,2],[68.5,34.0,2],
  [39.5,30.0,3],[40.5,29.0,2],[41.0,24.0,2],[42.0,31.0,2],[43.0,27.0,2],[44.0,22.0,2],[45.0,29.0,2],[46.0,25.0,2],[47.0,31.0,3],
  [48.0,22.5,2],[49.0,32.5,2],[50.0,26.5,2],[50.5,20.0,2],[51.5,29.5,2],[52.5,24.0,2],[53.5,31.5,2],[54.0,20.0,2],[54.5,27.0,2],
  [56.0,23.0,2],[56.5,29.5,2],[57.5,26.0,2],[58.5,31.0,2],[59.0,20.5,2],[60.0,28.0,2],[61.0,24.0,2],[61.5,33.0,3],[62.5,30.0,2],
  [63.0,26.5,2],[64.0,22.5,2],[65.0,29.5,2],[66.0,26.5,2],[67.0,32.0,2],[68.0,28.5,2],[69.5,31.0,2],[70.5,27.5,2],[72.0,32.5,2],
  [73.0,29.0,2],[48.0,20.0,1],[45.0,19.0,1],[52.0,18.0,1],[58.0,19.0,2],
  [41,27,3],[42,25,3],[43,30,2],[44,27,3],[45,25,2],[46,29,3],[47,27,3],[48,24,3],[49,29,3],[50,28,3],[51,25,3],[52,30,3],
  [53,27,3],[54,24,3],[55,30,3],[56,27,3],[57,29,3],[58,27,2],[59,31,3],[60,30,3],[61,27,3],[62,31,3],[63,29,3],[64,27,2],
  [65,31,3],[66,29,3],[67,30,2],[68,31,3],[70,30,2],[71,29,2],[47,22,2],[52,22,2],[57,22,2],[44,24,2]
];

const panelTitles = [
  "Earnings", "Prospects", "Working time quality",
  "Autonomy and involvement", "Skill", "Work intensity (reversed)",
  "Social environment", "Non-pecuniary job quality", "All-items job quality",
];
const panelData: Pt[][] = [earnings, prospects, workingTime, autonomy, skill, workIntensity, socialEnv, nonPecuniary, allItems];
const correlations = ["0.632", "0.353", "0.330", "0.391", "0.162", "0.370", "0.321", "0.268", "0.263"];
const pValues = ["0.000", "0.001", "0.001", "0.000", "0.153", "0.000", "0.000", "0.004", "0.008"];
const xAxisName = "2004";
const yAxisName = "2011";

const X_MIN = 0.7, X_MAX = 98.5, Y_MIN = 0.3, Y_MAX = 48.5;
const COL_X = [33, 427, 819];
const ROW_Y = [32, 313, 595];
const SIZE: Record<number, number> = { 1: 4, 2: 6.5, 3: 8.5 };
const FONT = "'Liberation Sans', Arial, sans-serif";
const DOT = "#5a5a5a";
const AXIS = "#333333";

export default function App() {
  const ref = useRef<HTMLDivElement>(null);
  useEffect(() => {
    if (!ref.current) return;
    const chart = echarts.init(ref.current, undefined, { renderer: "svg" });
    const grids: any[] = [];
    const xAxes: any[] = [];
    const yAxes: any[] = [];
    const series: any[] = [];
    const graphics: any[] = [];
    panelData.forEach((data, i) => {
      const c = i % 3;
      const r = Math.floor(i / 3);
      const left = COL_X[c] + 2.33;
      const top = ROW_Y[r] + 1.67;
      grids.push({ left, top, width: 326, height: 160.7, containLabel: false });
      const axisCommon = {
        type: "value",
        gridIndex: i,
        axisLine: { show: true, onZero: false, lineStyle: { color: AXIS, width: 1 } },
        axisTick: { show: false },
        axisLabel: { show: false },
        splitLine: { show: false },
      };
      xAxes.push({ ...axisCommon, min: X_MIN, max: X_MAX });
      yAxes.push({ ...axisCommon, min: Y_MIN, max: Y_MAX });
      series.push({
        type: "scatter",
        xAxisIndex: i,
        yAxisIndex: i,
        data,
        symbol: "circle",
        symbolSize: (v: number[]) => SIZE[v[2]],
        itemStyle: { color: DOT, opacity: 1 },
        emphasis: { disabled: true },
      });
      const cx = left + 162.5;
      graphics.push({
        type: "text", x: cx, y: ROW_Y[r] - 12.6, scaleX: 1.13,
        style: { text: panelTitles[i], font: `19px ${FONT}`, fill: "#000", textAlign: "center", textVerticalAlign: "middle" },
      });
      graphics.push({
        type: "text", x: cx, y: ROW_Y[r] + 175, scaleX: 1.08,
        style: { text: xAxisName, font: `19px ${FONT}`, fill: "#000", textAlign: "center", textVerticalAlign: "middle" },
      });
      graphics.push({
        type: "text", x: left - 14, y: ROW_Y[r] + 84, rotation: Math.PI / 2,
        style: { text: yAxisName, font: `19px ${FONT}`, fill: "#000", textAlign: "center", textVerticalAlign: "middle" },
      });
      graphics.push({
        type: "text", x: left + 4, y: ROW_Y[r] + 200, scaleX: 1.14,
        style: {
          text: `Correlation = ${correlations[i]}. P-value = ${pValues[i]}`,
          font: `14px ${FONT}`, fill: "#000", textAlign: "left", textVerticalAlign: "middle",
        },
      });
    });
    chart.setOption({
      animation: false,
      backgroundColor: "#ffffff",
      grid: grids,
      xAxis: xAxes,
      yAxis: yAxes,
      series,
      graphic: graphics,
    });
    return () => chart.dispose();
  }, []);
  return <div ref={ref} style={{ position: "absolute", left: 0, top: 0, width: 1128, height: 807 }} />;
}
